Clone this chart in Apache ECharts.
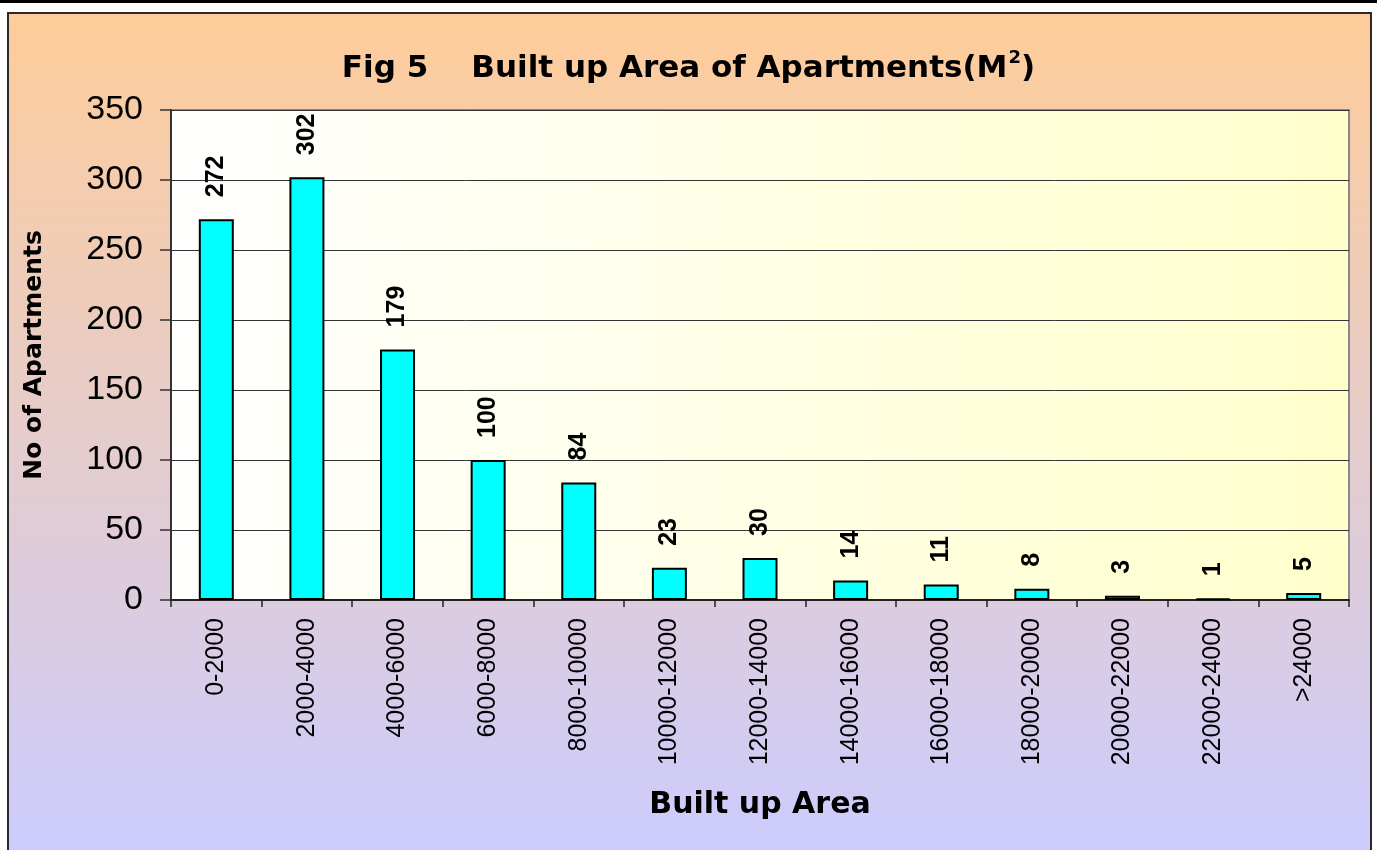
<!DOCTYPE html>
<html>
<head>
<meta charset="utf-8">
<script src="https://cdn.jsdelivr.net/npm/echarts@6/dist/echarts.min.js"></script>
<style>
  html, body { margin: 0; padding: 0; background: #ffffff; }
  #chart { width: 1377px; height: 850px; }
</style>
</head>
<body>
<div id="chart"></div>
<script>
const categories = ['0-2000', '2000-4000', '4000-6000', '6000-8000', '8000-10000', '10000-12000',
  '12000-14000', '14000-16000', '16000-18000', '18000-20000', '20000-22000', '22000-24000', '>24000'];
const apartments = [272, 302, 179, 100, 84, 23, 30, 14, 11, 8, 3, 1, 5];
const yTicks = [0, 50, 100, 150, 200, 250, 300, 350];

const FONT = '"Liberation Sans", Arial, sans-serif';
const WIDE = '"DejaVu Sans", "Liberation Sans", sans-serif';
const chart = echarts.init(document.getElementById('chart'), null, { renderer: 'canvas' });

chart.setOption({
  backgroundColor: '#ffffff',
  animation: false,
  graphic: [
    {
      type: 'rect', z: -100, silent: true,
      shape: { x: 0, y: 0, width: 1377, height: 3 },
      style: { fill: '#000000' }
    },
    {
      type: 'rect', z: -100, silent: true,
      shape: { x: 8, y: 13, width: 1363, height: 850 },
      style: {
        fill: new echarts.graphic.LinearGradient(0, 0, 0, 1, [
          { offset: 0, color: '#FFCC99' },
          { offset: 1, color: '#CCCCFF' }
        ]),
        stroke: '#2a2a2a', lineWidth: 2
      }
    }
  ],
  title: {
    text: '{t|Fig 5    Built up Area of Apartments(M}{s|2}{t|)}',
    left: 'center',
    top: 44,
    textStyle: {
      rich: {
        t: { fontFamily: WIDE, fontWeight: 'bold', fontSize: 31, color: '#000000' },
        s: { fontFamily: WIDE, fontWeight: 'bold', fontSize: 18, color: '#000000', verticalAlign: 'top', padding: [0, 0, 22, 1] }
      }
    }
  },
  grid: {
    left: 171, right: 28, top: 110, bottom: 250,
    show: true,
    backgroundColor: new echarts.graphic.LinearGradient(0, 0, 1, 0, [
      { offset: 0, color: '#FFFFFF' },
      { offset: 1, color: '#FFFFCC' }
    ]),
    borderColor: '#888888',
    borderWidth: 2
  },
  xAxis: {
    type: 'category',
    data: categories,
    name: 'Built up Area',
    nameLocation: 'middle',
    nameGap: 190,
    nameTextStyle: { fontFamily: WIDE, fontWeight: 'bold', fontSize: 30, color: '#000000' },
    axisLine: { show: true, lineStyle: { color: '#222222', width: 2 } },
    axisTick: { show: true, length: 7, lineStyle: { color: '#222222', width: 1.5 } },
    axisLabel: { rotate: 90, margin: 18, fontFamily: FONT, fontSize: 25, color: '#000000', interval: 0 },
    splitLine: { show: false }
  },
  yAxis: {
    type: 'value',
    min: 0, max: 350, interval: 50,
    name: 'No of Apartments',
    nameLocation: 'middle',
    nameGap: 124,
    nameTextStyle: { fontFamily: WIDE, fontWeight: 'bold', fontSize: 25, color: '#000000' },
    axisLine: { show: true, lineStyle: { color: '#333333', width: 2 } },
    axisTick: { show: true, length: 11, lineStyle: { color: '#333333', width: 1.5 } },
    axisLabel: {
      margin: 28, fontFamily: FONT, fontSize: 34, color: '#000000',
      formatter: function (v) { return yTicks.indexOf(v) >= 0 ? String(v) : ''; }
    },
    splitLine: { show: true, lineStyle: { color: '#333333', width: 1 } }
  },
  series: [{
    type: 'bar',
    data: apartments,
    barWidth: 35,
    itemStyle: { color: '#00FFFF', borderColor: '#000000', borderWidth: 2 },
    label: {
      show: true,
      position: 'top',
      rotate: 90,
      align: 'left',
      verticalAlign: 'middle',
      distance: 22,
      fontFamily: FONT,
      fontWeight: 'bold',
      fontSize: 25,
      color: '#000000'
    }
  }]
});
</script>
</body>
</html>
